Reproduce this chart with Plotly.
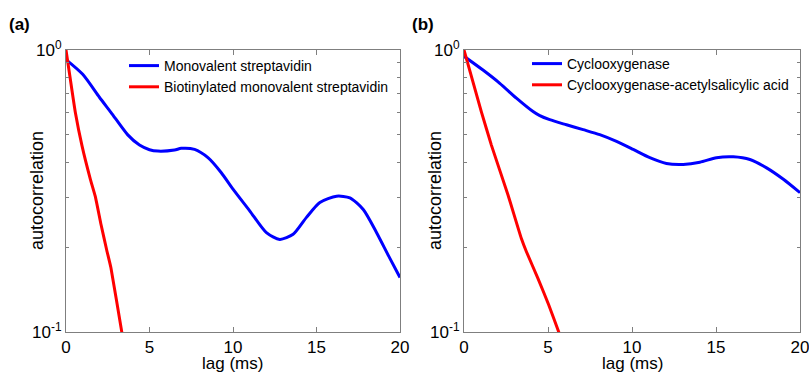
import plotly.graph_objects as go

# ---- data ----
lag_a_blue = [0, 1.0, 2.0, 2.7, 3.7, 4.4, 5.0, 5.5, 6.5, 6.9, 7.7, 8.5, 9.3, 10.0, 11.0, 12.0,
              12.8, 13.6, 14.4, 15.2, 16.2, 17.0, 17.8, 18.6, 19.3, 20.0]
ac_a_blue = [0.925, 0.82, 0.68, 0.60, 0.50, 0.46, 0.443, 0.438, 0.442, 0.448, 0.444, 0.415,
             0.367, 0.321, 0.269, 0.225, 0.213, 0.222, 0.255, 0.288, 0.303, 0.299, 0.272,
             0.225, 0.187, 0.156]

lag_a_red = [0, 0.26, 0.56, 0.96, 1.46, 1.75, 2.1, 2.44, 2.69, 3.34, 3.47]
ac_a_red = [1.0, 0.787, 0.600, 0.457, 0.348, 0.303, 0.240, 0.195, 0.169, 0.100, 0.091]

lag_b_blue = [0, 1.13, 2.13, 3.12, 4.11, 4.51, 5.1, 6.1, 7.09, 8.08, 9.08, 10.07, 11.06,
              12.05, 13.05, 14.04, 15.03, 16.03, 17.02, 18.01, 19.01, 20.0]
ac_b_blue = [0.95, 0.849, 0.762, 0.675, 0.605, 0.585, 0.566, 0.543, 0.522, 0.501, 0.474,
             0.444, 0.415, 0.396, 0.393, 0.400, 0.415, 0.418, 0.409, 0.382, 0.348, 0.312]

lag_b_red = [0, 1.03, 1.63, 2.62, 3.41, 3.71, 4.4, 5.04, 5.64, 5.75]
ac_b_red = [1.0, 0.605, 0.460, 0.306, 0.215, 0.193, 0.155, 0.125, 0.100, 0.095]

names_a = ["Monovalent streptavidin", "Biotinylated monovalent streptavidin"]
names_b = ["Cyclooxygenase", "Cyclooxygenase-acetylsalicylic acid"]
panel_labels = ["(a)", "(b)"]
x_ticks = [0, 5, 10, 15, 20]
y_ticks = [0.1, 1]
y_ticktext = ["10<sup>-1</sup>", "10<sup>0</sup>"]
y_minor = [0.2, 0.3, 0.4, 0.5, 0.6, 0.7, 0.8, 0.9]

BLUE = "#0000ff"
RED = "#ff0000"
FONT = "Liberation Sans, Arial, sans-serif"

fig = go.Figure()

fig.add_trace(go.Scatter(x=lag_a_blue, y=ac_a_blue, mode="lines", name=names_a[0],
                         line=dict(color=BLUE, width=3, shape="spline", smoothing=0.7),
                         xaxis="x", yaxis="y", legend="legend"))
fig.add_trace(go.Scatter(x=lag_a_red, y=ac_a_red, mode="lines", name=names_a[1],
                         line=dict(color=RED, width=3, shape="spline", smoothing=0.4),
                         xaxis="x", yaxis="y", legend="legend"))
fig.add_trace(go.Scatter(x=lag_b_blue, y=ac_b_blue, mode="lines", name=names_b[0],
                         line=dict(color=BLUE, width=3, shape="spline", smoothing=0.7),
                         xaxis="x2", yaxis="y2", legend="legend2"))
fig.add_trace(go.Scatter(x=lag_b_red, y=ac_b_red, mode="lines", name=names_b[1],
                         line=dict(color=RED, width=3, shape="spline", smoothing=0.4),
                         xaxis="x2", yaxis="y2", legend="legend2"))

W, H = 809, 374
yb, yt = 1 - 332 / H, 1 - 50 / H
xa = (66 / W, 400 / W)
xb = (464 / W, 800 / W)

axis_common = dict(showline=True, linecolor="#7f7f7f", linewidth=1, mirror="ticks",
                   ticks="inside", tickcolor="#7f7f7f", ticklen=5, showgrid=False,
                   zeroline=False, automargin=False, ticklabeloverflow="allow",
                   tickfont=dict(family=FONT, size=17, color="black"))

xaxis_kw = dict(range=[0, 20], tickvals=x_ticks, **axis_common)
yaxis_kw = dict(type="log", range=[-1, 0], tickvals=y_ticks, ticktext=y_ticktext,
                minor=dict(tickvals=y_minor, ticks="inside", ticklen=3, tickcolor="#7f7f7f"),
                **axis_common)

legend_kw = dict(font=dict(family=FONT, size=14, color="black"), bgcolor="rgba(0,0,0,0)",
                 borderwidth=0, xanchor="left", yanchor="top", tracegroupgap=0,
                 itemwidth=30)

fig.update_layout(
    width=W, height=H,
    margin=dict(l=0, r=0, t=0, b=0, pad=0, autoexpand=False),
    paper_bgcolor="white", plot_bgcolor="white",
    xaxis=dict(domain=xa, anchor="y", **xaxis_kw),
    yaxis=dict(domain=[yb, yt], anchor="x", **yaxis_kw),
    xaxis2=dict(domain=xb, anchor="y2", **xaxis_kw),
    yaxis2=dict(domain=[yb, yt], anchor="x2", **yaxis_kw),
    legend=dict(x=124 / W, y=1 - 50 / H, **legend_kw),
    legend2=dict(x=527 / W, y=1 - 48 / H, **legend_kw),
    font=dict(family=FONT, color="black"),
)

ann = []
ann.append(dict(text="<b>(a)</b>", x=7 / W, y=1 - 24 / H, xref="paper", yref="paper",
                showarrow=False, xanchor="left", yanchor="middle",
                font=dict(family=FONT, size=17, color="black")))
ann.append(dict(text="<b>(b)</b>", x=410 / W, y=1 - 24 / H, xref="paper", yref="paper",
                showarrow=False, xanchor="left", yanchor="middle",
                font=dict(family=FONT, size=17, color="black")))
for cx, ylx in [((xa[0] + xa[1]) / 2, 37 / W), ((xb[0] + xb[1]) / 2, 435 / W)]:
    ann.append(dict(text="lag (ms)", x=cx, y=0, xref="paper", yref="paper",
                    showarrow=False, xanchor="center", yanchor="bottom", yshift=-1,
                    font=dict(family=FONT, size=17, color="black")))
    ann.append(dict(text="autocorrelation", x=ylx, y=(yb + yt) / 2, xref="paper", yref="paper",
                    showarrow=False, xanchor="center", yanchor="middle", textangle=-90,
                    font=dict(family=FONT, size=18, color="black")))
fig.update_layout(annotations=ann)

fig.write_html("out.html")
